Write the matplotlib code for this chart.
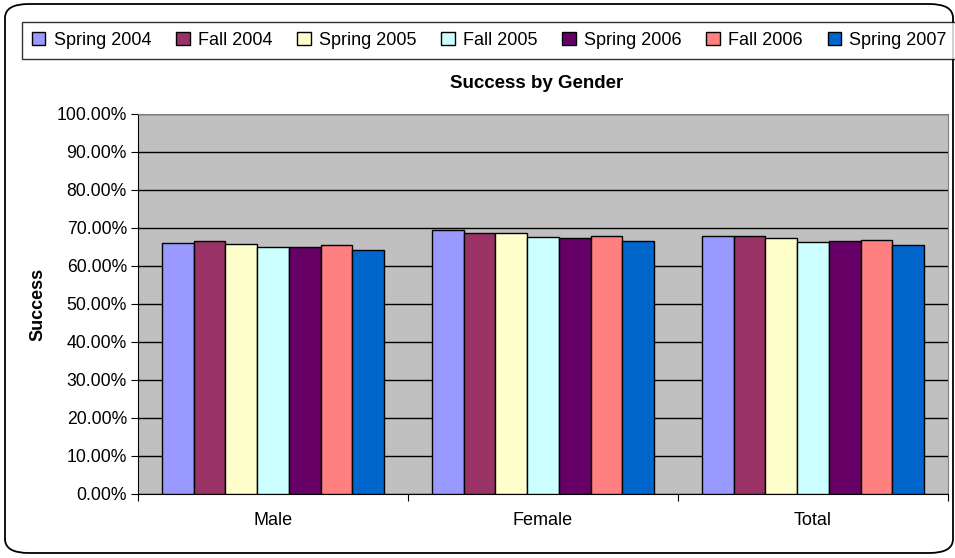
import numpy as np
import matplotlib.pyplot as plt
from matplotlib.patches import FancyBboxPatch

plt.rcParams['font.family'] = ['Liberation Sans', 'DejaVu Sans']

#--------- data ---------
categories = ['Male', 'Female', 'Total']
terms = ['Spring 2004', 'Fall 2004', 'Spring 2005', 'Fall 2005',
         'Spring 2006', 'Fall 2006', 'Spring 2007']
spring_2004 = [66.1, 69.6, 67.8]
fall_2004 = [66.5, 68.8, 67.8]
spring_2005 = [65.9, 68.8, 67.4]
fall_2005 = [65.1, 67.7, 66.4]
spring_2006 = [65.1, 67.5, 66.5]
fall_2006 = [65.5, 67.9, 66.8]
spring_2007 = [64.1, 66.5, 65.4]
series = [spring_2004, fall_2004, spring_2005, fall_2005,
          spring_2006, fall_2006, spring_2007]
colors = ['#9999FF', '#993366', '#FFFFCC', '#CCFFFF',
          '#660066', '#FF8080', '#0066CC']

#--------- plotting ---------
fig = plt.figure(figsize=(9.55, 5.58), dpi=100)
W, H = 955, 558

# rounded outer frame
frame = FancyBboxPatch((5/W, 5/H), 948/W, 549/H,
                       boxstyle='round,pad=0,rounding_size=0.025',
                       transform=fig.transFigure, facecolor='white',
                       edgecolor='black', linewidth=1.3, zorder=-5)
fig.patches.append(frame)

ax = fig.add_axes([138/W, 1-494/H, (948-138)/W, (494-114)/H])
ax.set_zorder(1)
ax.set_facecolor('#C0C0C0')

x = np.arange(len(categories))
w = 0.1175
for i, (vals, c, lab) in enumerate(zip(series, colors, terms)):
    ax.bar(x + (i-3)*w, vals, width=w, color=c, edgecolor='black',
           linewidth=1, label=lab, zorder=3)

ax.set_xlim(-0.5, 2.5)
ax.set_ylim(0, 100)
ax.set_yticks(np.arange(0, 101, 10))
ax.set_yticklabels(['%.2f%%' % v for v in np.arange(0, 101, 10)], fontsize=12.7)
ax.yaxis.grid(True, color='black', linewidth=1)
ax.set_axisbelow(True)

ax.set_xticks([-0.5, 0.5, 1.5, 2.5])
ax.set_xticklabels([])
ax.set_xticks(x, minor=True)
ax.set_xticklabels(categories, minor=True, fontsize=13)
ax.tick_params(axis='x', which='minor', length=0, pad=13)
ax.tick_params(axis='x', which='major', length=5, color='black')
ax.tick_params(axis='y', length=5, pad=3)

for s in ['top', 'right']:
    ax.spines[s].set_color('#808080')
ax.spines['left'].set_color('black')
ax.spines['bottom'].set_color('black')

ax.set_ylabel('Success', fontsize=13, fontweight='bold', labelpad=7)
fig.text(537/W, 1-83/H, 'Success by Gender', ha='center', va='center',
         fontsize=13.5, fontweight='bold')

leg = fig.legend(loc='upper left', bbox_to_anchor=(22/W, 1-22/H), ncol=7,
                 fontsize=13, frameon=True, fancybox=False,
                 edgecolor='black', borderaxespad=0, handlelength=0.75,
                 handleheight=0.75, handletextpad=0.45, columnspacing=1.38,
                 borderpad=0.55)
leg.get_frame().set_linewidth(1)
leg.set_zorder(2)

fig.savefig('out.png', dpi=100)
